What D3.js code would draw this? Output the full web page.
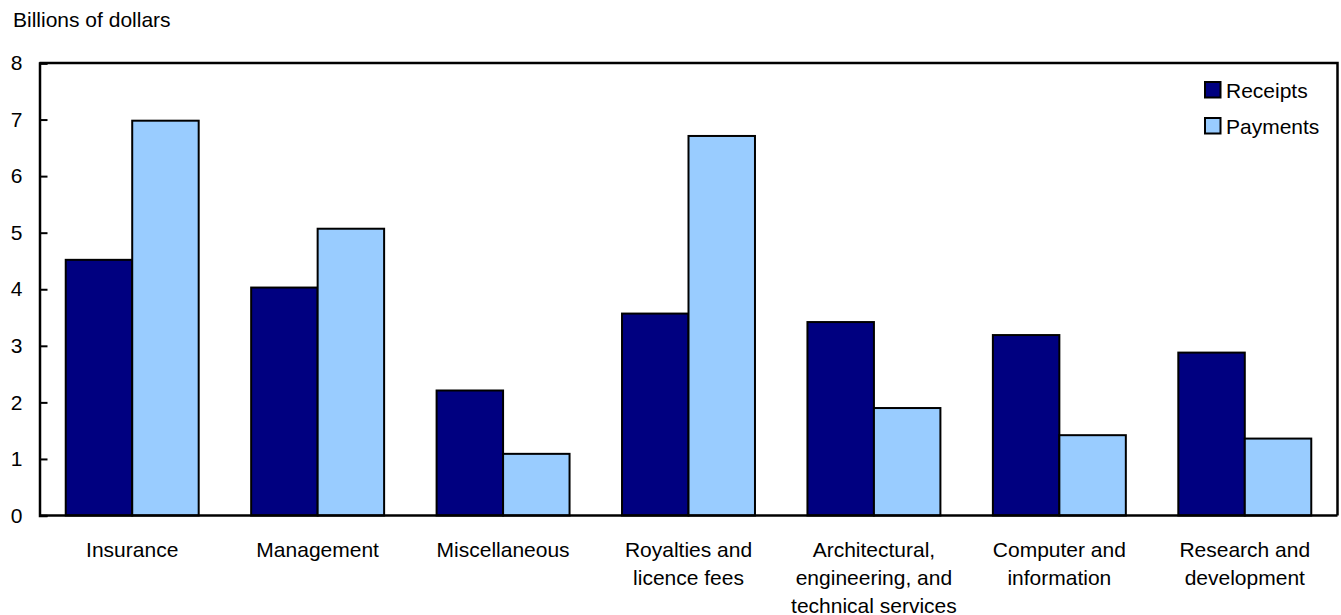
<!DOCTYPE html>
<html>
<head>
<meta charset="utf-8">
<script src="https://cdn.jsdelivr.net/npm/d3@7"></script>
<style>
  body { margin: 0; background: #fff; }
  text { font-family: "Liberation Sans", Arial, Helvetica, sans-serif; fill: #000; }
</style>
</head>
<body>
<svg id="chart"></svg>
<script>
const categories = [
    ["Insurance"],
    ["Management"],
    ["Miscellaneous"],
    ["Royalties and", "licence fees"],
    ["Architectural,", "engineering, and", "technical services"],
    ["Computer and", "information"],
    ["Research and", "development"]
];
const series = ["Receipts", "Payments"];
const receipts = [4.52, 4.03, 2.21, 3.57, 3.42, 3.19, 2.88];
const payments = [6.98, 5.07, 1.09, 6.71, 1.90, 1.42, 1.36];
const yTicks = [0, 1, 2, 3, 4, 5, 6, 7, 8];

const width = 1341;
const height = 615;
const margin = {top: 63, right: 3.5, bottom: 99.5, left: 39.5};
const colors = {Receipts: "#000080", Payments: "#99ccff"};
const fontSize = 21;

const svg = d3.select("#chart")
    .attr("width", width)
    .attr("height", height);

const table = categories.map((c, i) => ({
    key: c.join(" "),
    lines: c,
    values: [receipts[i], payments[i]]
}));

const x0 = d3.scaleBand()
    .domain(table.map(d => d.key))
    .range([margin.left, width - margin.right])
    .paddingInner(0.283)
    .paddingOuter(0.1415);

const x1 = d3.scaleBand()
    .domain(series)
    .range([0, x0.bandwidth()]);

const y = d3.scaleLinear()
    .domain([0, 8])
    .range([height - margin.bottom, margin.top]);

// bars
const group = svg.append("g")
    .selectAll("g")
    .data(table)
    .join("g")
    .attr("transform", d => `translate(${x0(d.key)},0)`);

group.selectAll("rect")
    .data(d => d.values.map((v, i) => ({name: series[i], value: v})))
    .join("rect")
    .attr("x", d => x1(d.name))
    .attr("y", d => y(d.value))
    .attr("width", x1.bandwidth())
    .attr("height", d => y(0) - y(d.value))
    .attr("fill", d => colors[d.name])
    .attr("stroke", "#000")
    .attr("stroke-width", 2);

// frame: top and right
svg.append("path")
    .attr("d", `M${margin.left},${margin.top}H${width - margin.right}V${height - margin.bottom}`)
    .attr("fill", "none")
    .attr("stroke", "#000")
    .attr("stroke-width", 2.5);

// y axis, ticks pointing inward
const yAxis = svg.append("g")
    .attr("transform", `translate(${margin.left},0)`)
    .call(d3.axisLeft(y).tickValues(yTicks).tickSize(-8).tickPadding(17).tickFormat(d3.format("d")));

yAxis.select(".domain").attr("stroke-width", 2.5);
yAxis.selectAll(".tick line").attr("stroke-width", 2);
yAxis.selectAll(".tick text")
    .attr("font-size", fontSize)
    .attr("font-family", null)
    .attr("fill", "#000");

// baseline
svg.append("line")
    .attr("x1", margin.left)
    .attr("x2", width - margin.right)
    .attr("y1", y(0))
    .attr("y2", y(0))
    .attr("stroke", "#000")
    .attr("stroke-width", 2.5);

// category labels
const labels = svg.append("g")
    .selectAll("text")
    .data(table)
    .join("text")
    .attr("font-size", fontSize)
    .attr("text-anchor", "middle")
    .attr("transform", d => `translate(${x0(d.key) + x0.bandwidth() / 2},557)`);

labels.selectAll("tspan")
    .data(d => d.lines)
    .join("tspan")
    .attr("x", 0)
    .attr("y", (d, i) => i * 27.8)
    .text(d => d);

// axis title
svg.append("text")
    .attr("font-size", fontSize)
    .attr("x", 13)
    .attr("y", 27)
    .text("Billions of dollars");

// legend
const legend = svg.append("g")
    .selectAll("g")
    .data(series)
    .join("g")
    .attr("transform", (d, i) => `translate(1205,${82 + i * 36})`);

legend.append("rect")
    .attr("width", 15.5)
    .attr("height", 15.5)
    .attr("fill", d => colors[d])
    .attr("stroke", "#000")
    .attr("stroke-width", 2);

legend.append("text")
    .attr("font-size", fontSize)
    .attr("x", 21)
    .attr("y", 15.5)
    .text(d => d);
</script>
</body>
</html>
